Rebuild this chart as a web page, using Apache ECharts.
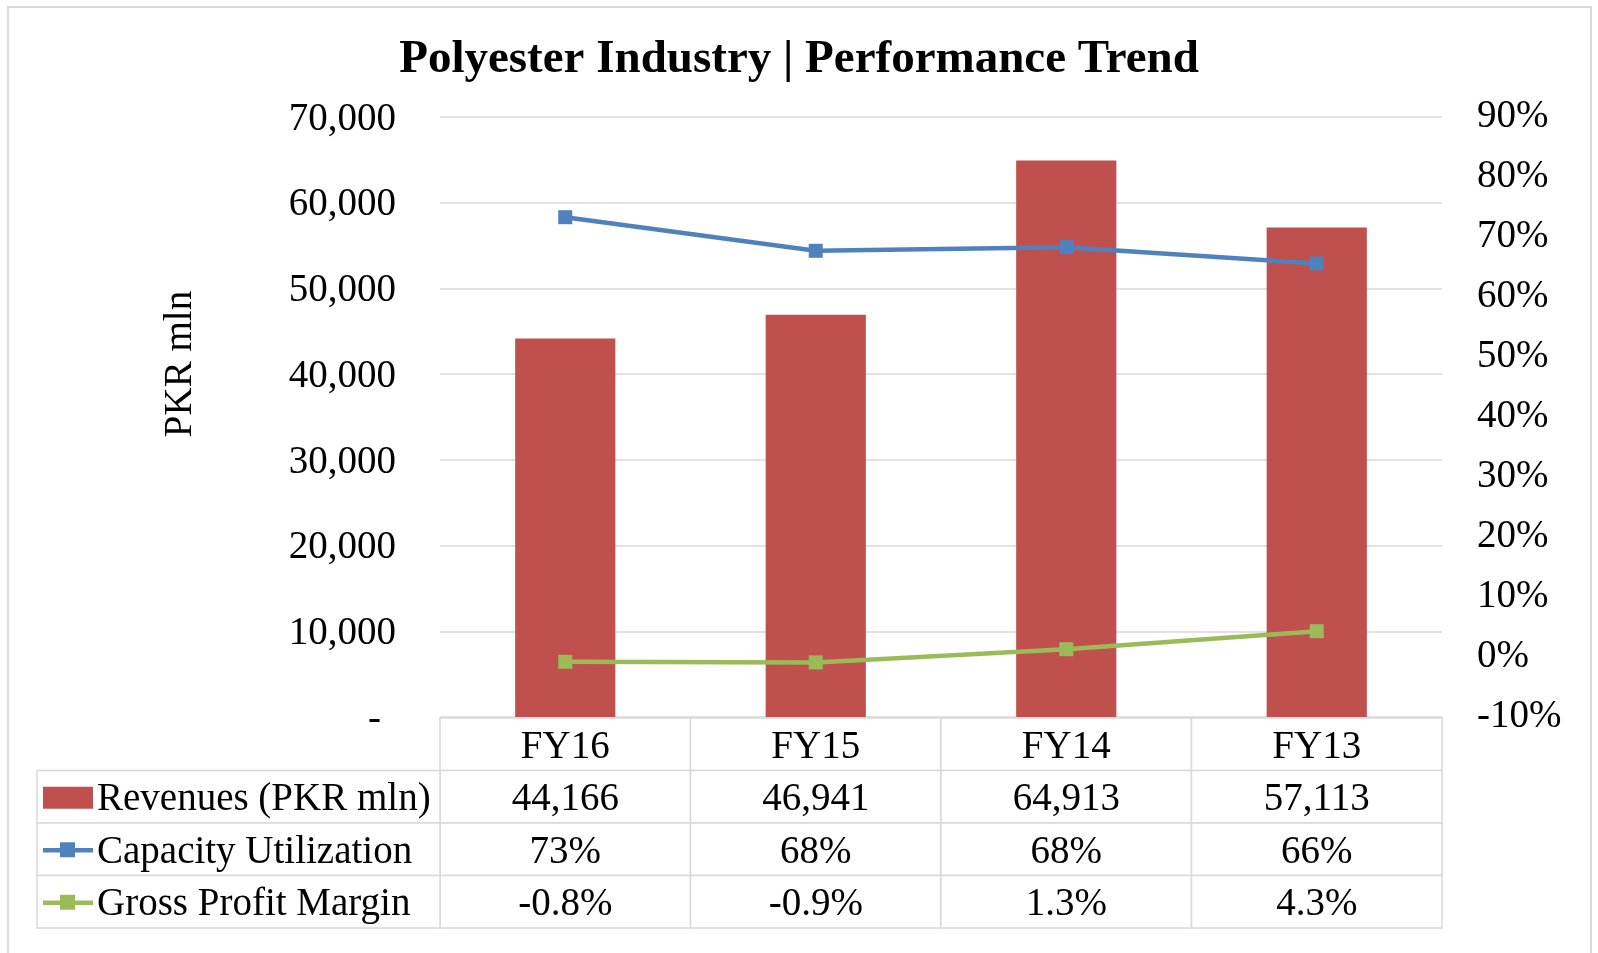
<!DOCTYPE html>
<html>
<head>
<meta charset="utf-8">
<title>Polyester Industry | Performance Trend</title>
<script src="https://cdn.jsdelivr.net/npm/echarts@6/dist/echarts.min.js"></script>
<style>
    html, body { margin: 0; padding: 0; background: #fff; }
    #chart { width: 1598px; height: 953px; }
</style>
</head>
<body>
<div id="chart"></div>
<script>
// data
const categories = ['FY16', 'FY15', 'FY14', 'FY13'];
const revenues = [44166, 46941, 64913, 57113];
const capacityUtil = [73.3, 67.7, 68.3, 65.6];
const grossMargin = [-0.8, -0.9, 1.3, 4.3];
const seriesNames = ['Revenues (PKR mln)', 'Capacity Utilization', 'Gross Profit Margin'];

const FONT = '"Liberation Serif", "Times New Roman", serif';
const TEXT_SIZE = 39;
const LINE_GREY = '#d9d9d9';
const RED = '#C0504D';
const BLUE = '#4F81BD';
const GREEN = '#9BBB59';

function thousands(v) {
    return String(v).replace(/\B(?=(\d{3})+(?!\d))/g, ',');
}

// rows of the data table under the plot
const tableRows = [
    categories,
    revenues.map(thousands),
    capacityUtil.map(v => Math.round(v) + '%'),
    grossMargin.map(v => v.toFixed(1) + '%')
];
const tableCells = [];
tableRows.forEach((row, r) => row.forEach((_, c) => tableCells.push([c, r])));

function renderTableCell(params, api) {
    const c = api.coord([api.value(0), api.value(1)]);
    const s = api.size([1, 1]);
    const text = tableRows[api.value(1)][api.value(0)];
    return {
        type: 'group',
        children: [
            {
                type: 'rect',
                shape: { x: c[0] - s[0] / 2, y: c[1] - s[1] / 2, width: s[0], height: s[1] },
                style: { fill: '#fff', stroke: LINE_GREY, lineWidth: 1.5 }
            },
            {
                type: 'text',
                style: {
                    text: text, x: c[0], y: c[1] + 3,
                    align: 'center', verticalAlign: 'middle',
                    font: TEXT_SIZE + 'px ' + FONT, fill: '#000'
                }
            }
        ]
    };
}

// legend-like key column of the table
function renderKeyCell(params, api) {
    const row = api.value(1);
    const c = api.coord([api.value(0), row]);
    const s = api.size([1, 1]);
    const left = c[0] - s[0] / 2;
    const icon = [];
    if (row === 0) {
        icon.push({
            type: 'rect',
            shape: { x: left + 6, y: c[1] - 10, width: 50, height: 22 },
            style: { fill: RED }
        });
    } else {
        const col = row === 1 ? BLUE : GREEN;
        icon.push({
            type: 'line',
            shape: { x1: left + 6, y1: c[1] + 1, x2: left + 56, y2: c[1] + 1 },
            style: { stroke: col, lineWidth: 4.5 }
        });
        icon.push({
            type: 'rect',
            shape: { x: left + 23, y: c[1] - 7, width: 15, height: 15 },
            style: { fill: col }
        });
    }
    return {
        type: 'group',
        children: [
            {
                type: 'rect',
                shape: { x: left, y: c[1] - s[1] / 2, width: s[0], height: s[1] },
                style: { fill: '#fff', stroke: LINE_GREY, lineWidth: 1.5 }
            }
        ].concat(icon, [
            {
                type: 'text',
                style: {
                    text: seriesNames[row], x: left + 60, y: c[1] + 3,
                    align: 'left', verticalAlign: 'middle',
                    font: TEXT_SIZE + 'px ' + FONT, fill: '#000'
                }
            }
        ])
    };
}

const chart = echarts.init(document.getElementById('chart'));

const option = {
    animation: false,
    backgroundColor: '#fff',
    title: {
        text: 'Polyester Industry | Performance Trend',
        left: 'center',
        top: 31,
        textStyle: { fontFamily: FONT, fontWeight: 'bold', fontSize: 47, color: '#000' }
    },
    graphic: [
        {
            type: 'rect',
            shape: { x: 8, y: 7, width: 1583, height: 960 },
            style: { fill: 'none', stroke: LINE_GREY, lineWidth: 2 },
            silent: true
        },
        {
            type: 'text',
            x: 181, y: 364,
            rotation: Math.PI / 2,
            style: {
                text: 'PKR mln', align: 'center', verticalAlign: 'middle',
                font: TEXT_SIZE + 'px ' + FONT, fill: '#000'
            }
        }
    ],
    grid: [
        { left: 440, right: 156, top: 117, height: 600 },
        { left: 440, right: 156, top: 718, height: 210 },
        { left: 37, width: 403, top: 770.5, height: 157.5 }
    ],
    xAxis: [
        {
            type: 'category', gridIndex: 0, data: categories,
            axisLine: { show: false }, axisTick: { show: false }, axisLabel: { show: false }
        },
        { type: 'category', gridIndex: 1, data: categories, show: false },
        { type: 'category', gridIndex: 2, data: ['key'], show: false }
    ],
    yAxis: [
        {
            type: 'value', gridIndex: 0,
            min: 0, max: 70000, interval: 10000,
            axisLine: { show: false }, axisTick: { show: false },
            axisLabel: {
                margin: 44, color: '#000', fontFamily: FONT, fontSize: TEXT_SIZE,
                padding: [5, 0, 0, 0],
                formatter: v => (v === 0 ? '{dash|-}' : thousands(v)),
                rich: { dash: { fontFamily: FONT, fontSize: TEXT_SIZE, color: '#000', padding: [0, 15, 0, 0] } }
            },
            splitLine: { lineStyle: { color: LINE_GREY, width: 1.5 } }
        },
        {
            type: 'value', gridIndex: 0, position: 'right',
            min: -10, max: 90, interval: 10,
            axisLine: { show: false }, axisTick: { show: false },
            axisLabel: {
                margin: 35, color: '#000', fontFamily: FONT, fontSize: TEXT_SIZE,
                padding: [5, 0, 0, 0],
                formatter: '{value}%'
            },
            splitLine: { show: false }
        },
        { type: 'category', gridIndex: 1, data: ['h', 'r', 'c', 'g'], inverse: true, show: false },
        { type: 'category', gridIndex: 2, data: ['r', 'c', 'g'], inverse: true, show: false }
    ],
    series: [
        {
            name: seriesNames[0],
            type: 'bar',
            xAxisIndex: 0, yAxisIndex: 0,
            data: revenues,
            barWidth: '40%',
            itemStyle: { color: RED }
        },
        {
            name: seriesNames[1],
            type: 'line',
            xAxisIndex: 0, yAxisIndex: 1,
            data: capacityUtil,
            symbol: 'rect', symbolSize: 14,
            lineStyle: { color: BLUE, width: 4.5 },
            itemStyle: { color: BLUE },
            z: 5
        },
        {
            name: seriesNames[2],
            type: 'line',
            xAxisIndex: 0, yAxisIndex: 1,
            data: grossMargin,
            symbol: 'rect', symbolSize: 14,
            lineStyle: { color: GREEN, width: 4.5 },
            itemStyle: { color: GREEN },
            z: 5
        },
        {
            type: 'custom',
            xAxisIndex: 1, yAxisIndex: 2,
            data: tableCells,
            renderItem: renderTableCell,
            silent: true
        },
        {
            type: 'custom',
            xAxisIndex: 2, yAxisIndex: 3,
            data: [[0, 0], [0, 1], [0, 2]],
            renderItem: renderKeyCell,
            silent: true
        }
    ]
};

chart.setOption(option);
window.addEventListener('resize', () => chart.resize());
</script>
</body>
</html>
